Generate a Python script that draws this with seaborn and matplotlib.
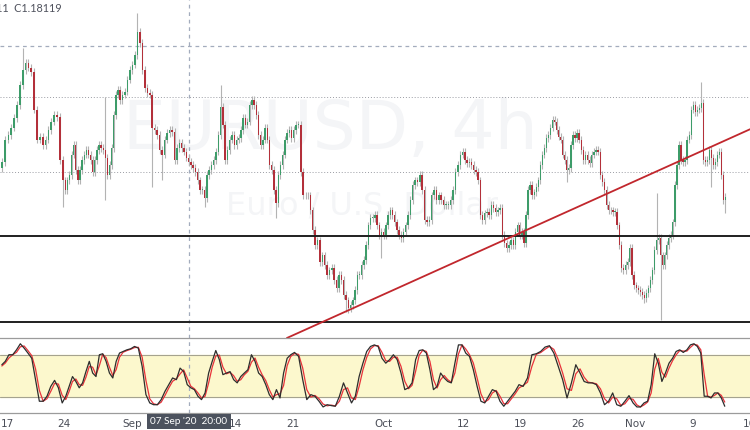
import numpy as np
import pandas as pd
import matplotlib
matplotlib.use("Agg")
import matplotlib.pyplot as plt
import seaborn as sns

# ---------- Data: EUR/USD 4h, grouped by trading week ----------
# x axis is in trading days, Mon 17 Aug 2020 = 0
session_bounds = [-0.6, 0, 5, 10, 15, 20, 25, 30, 35, 40, 45, 50, 55, 60, 63.0]

first_open = 1.1805
closes = [
    1.1813, 1.1843,  # Fri 14 Aug
    # week of 17 Aug
    1.1849, 1.1859, 1.1872, 1.1889, 1.1916, 1.1936, 1.1945, 1.1939, 1.1933, 1.1883,
    1.1843, 1.1847, 1.1836, 1.1843, 1.1856, 1.1867, 1.1876, 1.1873, 1.1816, 1.1789,
    # week of 24 Aug
    1.1776, 1.1789, 1.1796, 1.1823, 1.1836, 1.1803, 1.1789, 1.1803, 1.1816, 1.1823,
    1.1829, 1.1823, 1.1816, 1.1800, 1.1816, 1.1829, 1.1836, 1.1832, 1.1829, 1.1819,
    1.1796, 1.1809, 1.1832, 1.1876, 1.1903, 1.1909, 1.1896,
    # week of 31 Aug
    1.1903, 1.1907, 1.1923, 1.1936, 1.1943, 1.1956, 1.1987, 1.1972, 1.1936, 1.1912,
    1.1905, 1.1903, 1.1859, 1.1856, 1.1849, 1.1829, 1.1823, 1.1843, 1.1852, 1.1856,
    1.1853, 1.1816, 1.1832,
    # week of 7 Sep
    1.1839, 1.1832, 1.1827, 1.1819, 1.1813, 1.1809, 1.1805, 1.1800, 1.1789, 1.1776,
    1.1776, 1.1765, 1.1796, 1.1803, 1.1809, 1.1816, 1.1827, 1.1849, 1.1887, 1.1863,
    1.1816, 1.1829, 1.1843, 1.1849, 1.1836,
    # week of 14 Sep
    1.1843, 1.1845, 1.1856, 1.1872, 1.1863, 1.1867, 1.1889, 1.1896, 1.1889, 1.1876,
    1.1849, 1.1836, 1.1843, 1.1859, 1.1843, 1.1809, 1.1803, 1.1776, 1.1759, 1.1796,
    1.1809, 1.1823, 1.1843, 1.1852, 1.1856, 1.1845,
    # week of 21 Sep
    1.1856, 1.1863, 1.1863, 1.1800, 1.1769, 1.1769, 1.1769, 1.1749, 1.1723, 1.1703,
    1.1709, 1.1680, 1.1689, 1.1676, 1.1663, 1.1669, 1.1672, 1.1656, 1.1645, 1.1663,
    1.1656, 1.1636, 1.1629, 1.1619,
    # week of 28 Sep
    1.1623, 1.1629, 1.1643, 1.1663, 1.1663, 1.1676, 1.1683, 1.1703, 1.1729, 1.1739,
    1.1739, 1.1743, 1.1729, 1.1716, 1.1720, 1.1716, 1.1729, 1.1743, 1.1749, 1.1743,
    1.1733, 1.1723, 1.1716, 1.1712, 1.1720, 1.1729,
    # week of 5 Oct
    1.1743, 1.1763, 1.1783, 1.1789, 1.1787, 1.1796, 1.1776, 1.1736, 1.1733, 1.1736,
    1.1769, 1.1776, 1.1763, 1.1769, 1.1763, 1.1756, 1.1756, 1.1756, 1.1763, 1.1776,
    1.1800, 1.1809, 1.1823, 1.1827,
    # week of 12 Oct
    1.1816, 1.1812, 1.1813, 1.1809, 1.1803, 1.1800, 1.1789, 1.1743, 1.1736, 1.1745,
    1.1747, 1.1743, 1.1756, 1.1752, 1.1747, 1.1749, 1.1752, 1.1716, 1.1705, 1.1699,
    1.1703, 1.1709, 1.1703, 1.1720, 1.1729, 1.1716,
    # week of 19 Oct
    1.1720, 1.1705, 1.1743, 1.1776, 1.1783, 1.1769, 1.1773, 1.1780, 1.1789, 1.1809,
    1.1823, 1.1832, 1.1845, 1.1849, 1.1859, 1.1869, 1.1867, 1.1856, 1.1847, 1.1843,
    1.1823, 1.1816, 1.1803, 1.1805, 1.1836, 1.1849, 1.1845, 1.1852,
    # week of 26 Oct
    1.1843, 1.1829, 1.1816, 1.1823, 1.1816, 1.1812, 1.1823, 1.1827, 1.1829, 1.1827,
    1.1796, 1.1787, 1.1776, 1.1756, 1.1749, 1.1749, 1.1747, 1.1747, 1.1729, 1.1703,
    1.1672, 1.1669, 1.1676, 1.1680, 1.1699, 1.1663, 1.1649,
    # week of 2 Nov
    1.1645, 1.1643, 1.1640, 1.1636, 1.1632, 1.1639, 1.1645, 1.1656, 1.1669, 1.1696,
    1.1709, 1.1712, 1.1689, 1.1676, 1.1689, 1.1703, 1.1712, 1.1716, 1.1733, 1.1783,
    1.1809, 1.1836, 1.1816, 1.1813, 1.1816, 1.1843, 1.1849, 1.1883,
    # week of 9 Nov
    1.1889, 1.1880, 1.1883, 1.1885, 1.1892, 1.1816, 1.1813, 1.1816, 1.1829, 1.1819,
    1.1809, 1.1813, 1.1823, 1.1827, 1.1796, 1.1763, 1.1767,
]
close_counts = [2, 20, 27, 23, 25, 26, 24, 26, 24, 26, 28, 27, 28, 17]

# long wicks that stand out (candle index -> price)
spike_highs = {7: 1.1965, 41: 1.1900, 55: 1.2012, 90: 1.1916, 288: 1.1772, 310: 1.1920}
spike_lows = {21: 1.1753, 41: 1.1763, 61: 1.1780, 65: 1.1789, 83: 1.1753, 115: 1.1739,
              145: 1.1613, 146: 1.1612, 161: 1.1685, 245: 1.1787, 282: 1.1625,
              290: 1.1603, 315: 1.1780, 322: 1.1745}
wick_pad = 0.0005

# stochastic %K / %D
stoch_k = [
    65.8, 70.6,
    80, 80, 87, 95.6, 89.4, 82.4, 75, 44.6, 13.9, 13.9, 21, 35, 43.6, 33, 11.5,
    21, 35, 49, 42, 33, 40, 56, 70.6, 54, 49, 80, 81.4, 70.6, 54, 47, 70.6, 82.4,
    84.7, 87, 88.5, 91.8, 89.4, 63.5, 23.3, 11.5, 9, 9, 16.2, 28, 37.5, 47, 44.6,
    61, 56, 37.5, 33, 30.4, 21, 16.2, 25.7, 54, 70.6, 86, 73, 51.7, 54, 56, 44.6,
    40, 49, 54, 58.7, 80, 70.6, 54, 49, 37.5, 23.3, 16.2, 30.4, 18.6, 54, 75, 80,
    83.3, 77.6, 44.6, 16.2, 23.3, 21, 13.9, 5.8, 9, 7.7, 6.8, 21, 40, 25.7,
    11.5, 21, 49, 68, 84.7, 91.8, 94, 91.8, 75, 68, 73, 80, 73, 54, 30.4,
    33, 40, 73, 86, 87, 82.4, 58.7, 30.4, 35, 54, 47, 42, 40, 68, 94, 94,
    82.4, 77.6, 58.7, 35, 13.9, 11.5, 21, 30.4, 28, 13.9, 6.8, 13.9, 21, 28, 37.5,
    35, 47, 80, 81.4, 84.7, 90.9, 92.8, 82.4, 63.5, 44.6, 18.6, 40, 65.8,
    54, 42, 40, 40, 37.5, 25.7, 9, 13.9, 25.7, 9, 6.8, 13.9, 21.9, 11.5,
    5.8, 5.8, 11.5, 13.9, 37.5, 81.4, 68, 42, 54, 68, 75, 84.7, 87, 83.3, 87, 94,
    95.6, 91.8, 82.4, 21, 21, 18.6, 25.7, 25.7, 18.6, 6.8,
]
stoch_d = [
    64, 68.2,
    75.3, 80, 83.5, 91.3, 92.5, 85.9, 78.7, 59.8, 29.3, 13.9, 17.5, 28, 39.3, 38.3, 22.3,
    16.3, 28, 42, 45.5, 37.5, 36.5, 48, 63.3, 62.3, 51.5, 64.5, 80.7, 76, 62.3, 50.5, 58.8, 76.5,
    83.6, 85.9, 87.8, 90.2, 90.6, 76.5, 43.4, 17.4, 10.3, 9, 12.6, 22.1, 32.8, 42.3, 45.8,
    52.8, 58.5, 46.8, 35.3, 31.7, 25.7, 18.6, 21, 39.9, 62.3, 78.3, 79.5, 62.4, 52.9, 55, 50.3,
    42.3, 44.5, 51.5, 56.4, 69.4, 75.3, 62.3, 51.5, 43.3, 30.4, 19.8, 23.3, 24.5, 36.3, 64.5, 77.5,
    81.7, 80.5, 61.1, 30.4, 19.8, 22.2, 17.5, 9.9, 7.4, 8.4, 7.3, 13.9, 30.5, 32.9,
    18.6, 16.3, 35, 58.5, 76.4, 88.3, 92.9, 92.9, 83.4, 71.5, 70.5, 76.5, 76.5, 63.5, 42.2,
    31.7, 36.5, 56.5, 79.5, 86.5, 84.7, 70.6, 44.6, 32.7, 44.5, 50.5, 44.5, 41, 54, 81, 94,
    88.2, 80, 68.2, 46.9, 24.5, 12.7, 16.3, 25.7, 29.2, 21, 10.4, 10.4, 17.5, 24.5, 32.8,
    36.3, 41, 63.5, 80.7, 83.1, 87.8, 91.9, 87.6, 73, 54.1, 31.6, 29.3, 52.9,
    59.9, 48, 41, 40, 38.8, 31.6, 17.4, 11.5, 19.8, 17.4, 7.9, 10.4, 17.9, 16.7,
    8.7, 5.8, 8.7, 12.7, 25.7, 59.5, 74.7, 55, 48, 61, 71.5, 79.9, 85.9, 85.2, 85.2, 90.5,
    94.8, 93.7, 87.1, 51.7, 21, 19.8, 22.2, 25.7, 22.2, 12.7,
]
stoch_counts = [2, 15, 17, 15, 16, 16, 14, 15, 16, 15, 13, 14, 16, 10]

# drawn levels
support_levels = [1.1715, 1.1600]
grid_levels = [1.19, 1.18]
trend_points = [(29.8, 1.1615), (45.1, 1.1720)]
cross_day, cross_price = 15.92, 1.1968

tick_days = [0, 5, 11, 20, 25, 33, 40, 45, 50, 55, 60, 65]
tick_labels = ["17", "24", "Sep", "14", "21", "Oct", "12", "19", "26", "Nov", "9", "16"]


def spread(counts):
    t, w = [], []
    for k, n in enumerate(counts):
        a, b = session_bounds[k], session_bounds[k + 1]
        step = (b - a) / n
        t += [a + (j + 0.5) * step for j in range(n)]
        w += [step] * n
    return np.array(t), np.array(w)


# ---------- Build candles ----------
t, step = spread(close_counts)
c = np.array(closes)
o = np.concatenate([[first_open], c[:-1]])
hi = np.maximum(o, c) + wick_pad
lo = np.minimum(o, c) - wick_pad
for i, v in spike_highs.items():
    hi[i] = v
for i, v in spike_lows.items():
    lo[i] = v
up = c >= o

st, _ = spread(stoch_counts)
stoch = pd.DataFrame({"t": st, "k": stoch_k, "d": stoch_d})

# ---------- Figure ----------
sns.set_style("white")
plt.rcParams["font.family"] = ["DejaVu Sans"]
fig = plt.figure(figsize=(7.5, 4.3), dpi=100)
ax = fig.add_axes([0, 92 / 430, 1, 338 / 430])
ax2 = fig.add_axes([0, 17 / 430, 1, 75 / 430], sharex=ax)

xlim = (-0.613, 65.06)

# watermark
ax.text(0.44, 0.615, "EURUSD, 4h", transform=ax.transAxes, ha="center", va="center",
        fontsize=49, color="#f4f5f7", zorder=0)
ax.text(0.483, 0.39, "Euro / U.S. Dollar", transform=ax.transAxes, ha="center",
        va="center", fontsize=23, color="#f4f5f7", zorder=0)

for g in grid_levels:
    ax.axhline(g, color="#9a9ca3", lw=0.7, ls=(0, (1, 2)), zorder=1)
ax.axhline(cross_price, color="#a3acbd", lw=0.9, ls=(0, (3, 3)), zorder=1)
ax.axvline(cross_day, color="#a3acbd", lw=0.9, ls=(0, (3, 3)), zorder=1)

ax.vlines(t, lo, hi, color="#b3b3b3", lw=0.8, zorder=2)
body_h = np.maximum(np.abs(c - o), 0.00008)
ax.bar(t, body_h, bottom=np.minimum(o, c), width=step * 0.62,
       color=np.where(up, "#3d9c69", "#b3303a"), linewidth=0, zorder=3)

for s in support_levels:
    ax.axhline(s, color="#1f1f1f", lw=1.4, zorder=4)
ax.axline(trend_points[0], trend_points[1], color="#c1272d", lw=1.3, zorder=5)

ax.set_xlim(*xlim)
ax.set_ylim(1.15787, 1.20293)
ax.axis("off")

# stochastic panel
ax2.axhspan(20, 80, color="#fcf8cd", zorder=0)
for lvl in (20, 80):
    ax2.axhline(lvl, color="#a5a38f", lw=0.8, zorder=1)
ax2.axvline(cross_day, color="#a3acbd", lw=0.9, ls=(0, (3, 3)), zorder=1)
sns.lineplot(data=stoch, x="t", y="k", ax=ax2, color="#2d2d2d", lw=0.9,
             estimator=None, sort=False, zorder=3)
sns.lineplot(data=stoch, x="t", y="d", ax=ax2, color="#e8333b", lw=0.9,
             estimator=None, sort=False, zorder=2)
ax2.set_ylim(-2.8, 103.8)
ax2.set_xlim(*xlim)
ax2.set_xlabel("")
ax2.set_ylabel("")
ax2.set_yticks([])
for side in ("left", "right"):
    ax2.spines[side].set_visible(False)
for side in ("top", "bottom"):
    ax2.spines[side].set_color("#9b9b9b")
    ax2.spines[side].set_linewidth(0.9)
ax2.set_xticks(tick_days, tick_labels)
ax2.tick_params(axis="x", length=3, color="#9b9b9b", pad=1.5, labelsize=7.5,
                labelcolor="#4a4d57")

# crosshair date label and OHLC readout
fig.text(189 / 750, 8.5 / 430, "07 Sep '20  20:00", ha="center", va="center",
         fontsize=7.2, color="white", family=["Lato", "DejaVu Sans"],
         bbox=dict(boxstyle="square,pad=0.32", fc="#4c525e", ec="none"))
fig.text(62 / 750, 1 - 8 / 430, "L1.18111  C1.18119", ha="right", va="center",
         fontsize=7.8, color="#50535e", family=["Lato", "DejaVu Sans"])

fig.savefig("out.png", dpi=100)
